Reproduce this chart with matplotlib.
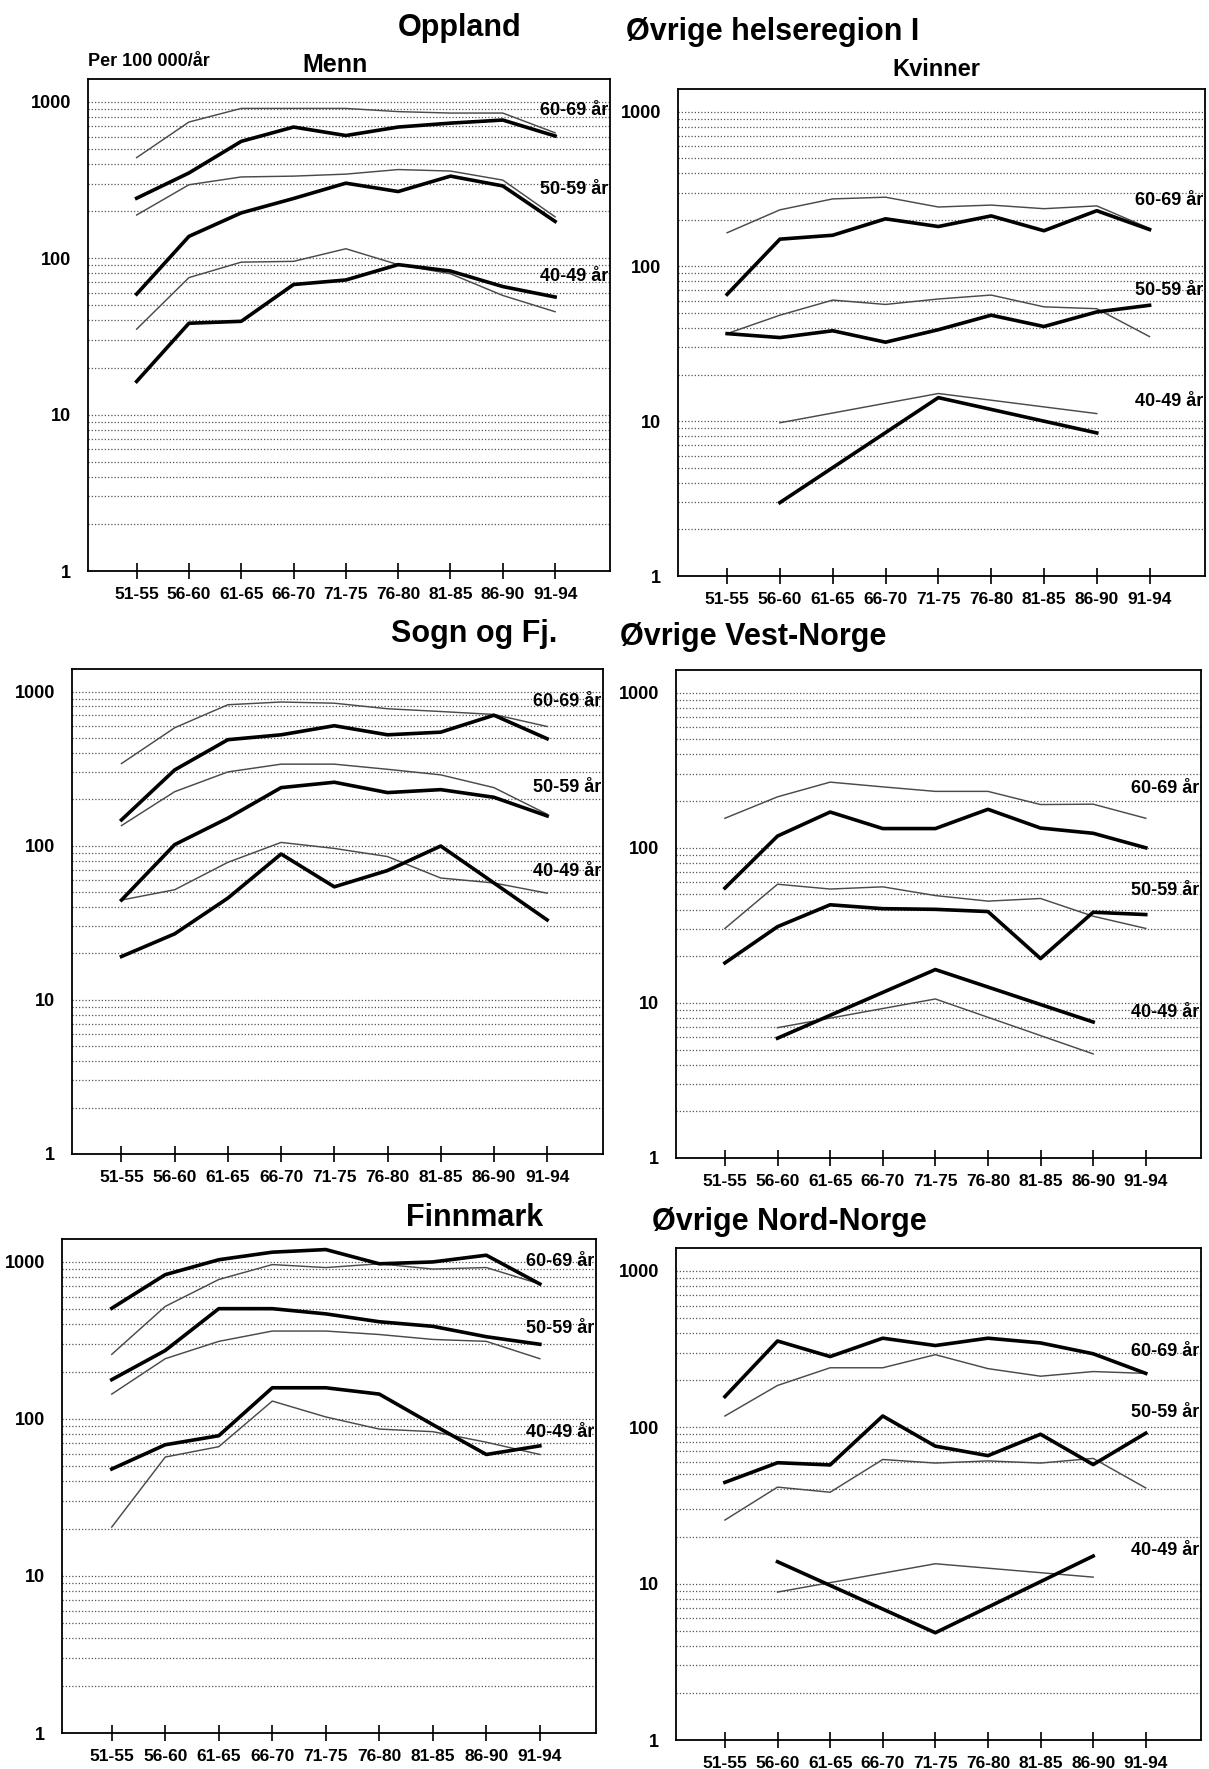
import numpy as np
import matplotlib
matplotlib.use("Agg")
import matplotlib.pyplot as plt
from matplotlib.ticker import LogLocator, FixedLocator, NullFormatter
import matplotlib.transforms as mtransforms

plt.rcParams['font.family'] = ['Liberation Sans', 'DejaVu Sans']
plt.rcParams['font.weight'] = 'bold'

nan = np.nan
PERIODS = ["51-55", "56-60", "61-65", "66-70", "71-75", "76-80", "81-85", "86-90", "91-94"]
AGE_LABELS = ["60-69 år", "50-59 år", "40-49 år"]
Y_TICKS = [1, 10, 100, 1000]

# Oppland (thick) vs Øvrige helseregion I (thin)
opp_m_60 = [242, 351, 559, 690, 609, 690, 731, 765, 605]
hr1_m_60 = [440, 743, 908, 908, 908, 866, 848, 848, 634]
opp_m_50 = [59, 138, 195, 241, 302, 267, 335, 290, 172]
hr1_m_50 = [189, 295, 331, 335, 345, 369, 361, 316, 184]
opp_m_40 = [16.3, 38.4, 39.5, 67.9, 72.6, 91, 82.8, 65.9, 56.5]
hr1_m_40 = [35.2, 75.2, 94.4, 95.5, 115, 91, 79.6, 57.8, 45.5]
opp_k_60 = [66, 150, 159, 203, 181, 212, 170, 229, 173]
hr1_k_60 = [165, 232, 273, 280, 242, 249, 236, 246, 176]
opp_k_50 = [36.8, 34.7, 38.4, 32.4, 39, 48.4, 40.9, 50.8, 56.1]
hr1_k_50 = [36.8, 48.4, 60.6, 56.8, 61.6, 65.3, 54.8, 53.3, 35.2]
opp_k_40 = [nan, 2.98, nan, nan, 14.2, nan, nan, 8.4, nan]
hr1_k_40 = [nan, 9.77, nan, nan, 15.1, nan, nan, 11.2, nan]

# Sogn og Fjordane (thick) vs Øvrige Vest-Norge (thin)
sfj_m_60 = [147, 310, 487, 524, 600, 524, 545, 702, 494]
vest_m_60 = [341, 582, 821, 855, 840, 773, 742, 710, 593]
sfj_m_50 = [44.4, 101.6, 151, 238, 258, 221, 231, 206, 156]
vest_m_50 = [135, 224, 301, 338, 338, 313, 288, 238, 160]
sfj_m_40 = [19.1, 26.8, 45.7, 88.3, 54.1, 69, 99.5, 57.3, 33]
vest_m_40 = [44.4, 51.8, 78, 105, 96, 85, 61.7, 57.3, 49.2]
sfj_k_60 = [55, 119, 170, 133, 133, 177, 134, 124, 100]
vest_k_60 = [155, 213, 265, 247, 231, 231, 190, 191, 155]
sfj_k_50 = [18.1, 31, 42.9, 40.5, 40.1, 38.8, 19.3, 38.4, 37.1]
vest_k_50 = [30.2, 58.2, 54.2, 56, 49.2, 45.3, 47.1, 36.2, 30.2]
sfj_k_40 = [nan, 5.92, nan, nan, 16.4, nan, nan, 7.53, nan]
vest_k_40 = [nan, 6.92, nan, nan, 10.6, nan, nan, 4.69, nan]

# Finnmark (thick) vs Øvrige Nord-Norge (thin)
fin_m_60 = [507, 830, 1033, 1154, 1199, 973, 1000, 1104, 724]
nord_m_60 = [258, 521, 773, 962, 921, 973, 901, 921, 724]
fin_m_50 = [178, 273, 504, 504, 467, 416, 389, 334, 299]
nord_m_50 = [144, 242, 312, 363, 363, 345, 321, 312, 242]
fin_m_40 = [48, 68.5, 78.2, 158, 158, 144, 92, 59.4, 67.4]
nord_m_40 = [20.5, 57.2, 66.6, 130, 103, 86.2, 83, 71.1, 59.4]
fin_k_60 = [157, 356, 283, 371, 333, 371, 346, 295, 221]
nord_k_60 = [118, 185, 240, 240, 291, 237, 212, 227, 221]
fin_k_50 = [44.4, 59.3, 57.4, 118, 75.7, 65.8, 90.2, 57.7, 91.6]
nord_k_50 = [25.5, 41.4, 38.4, 62.2, 59, 60.9, 59, 63.2, 40.9]
fin_k_40 = [nan, 13.8, nan, nan, 4.85, nan, nan, 15.0, nan]
nord_k_40 = [nan, 8.83, nan, nan, 13.4, nan, nan, 11.0, nan]

W, H = 1209, 1769
fig = plt.figure(figsize=(W / 100, H / 100), dpi=100)

def box(l, r, t, b):
    return [l / W, 1 - b / H, (r - l) / W, (b - t) / H]

panels = [
    (box(88, 610, 79, 571), [(opp_m_60, hr1_m_60), (opp_m_50, hr1_m_50), (opp_m_40, hr1_m_40)],
     [880, 274, 76]),
    (box(678, 1205, 89, 576), [(opp_k_60, hr1_k_60), (opp_k_50, hr1_k_50), (opp_k_40, hr1_k_40)],
     [268, 70, 13.5]),
    (box(72, 603, 669, 1154), [(sfj_m_60, vest_m_60), (sfj_m_50, vest_m_50), (sfj_m_40, vest_m_40)],
     [868, 240, 68]),
    (box(676, 1201, 670, 1158), [(sfj_k_60, vest_k_60), (sfj_k_50, vest_k_50), (sfj_k_40, vest_k_40)],
     [241, 52.7, 8.65]),
    (box(62, 596, 1239, 1733), [(fin_m_60, nord_m_60), (fin_m_50, nord_m_50), (fin_m_40, nord_m_40)],
     [1000, 375, 81.7]),
    (box(676, 1201, 1248, 1740), [(fin_k_60, nord_k_60), (fin_k_50, nord_k_50), (fin_k_40, nord_k_40)],
     [307, 124, 16.2]),
]

x = np.arange(len(PERIODS))
for rect, series, label_y in panels:
    ax = fig.add_axes(rect)
    ax.set_yscale('log')
    ax.set_ylim(1, 1400)
    ax.set_xlim(-0.93, 9.05)
    ax.yaxis.set_major_locator(FixedLocator(Y_TICKS))
    ax.set_yticklabels([str(v) for v in Y_TICKS])
    ax.yaxis.set_minor_locator(LogLocator(base=10, subs=np.arange(2, 10)))
    ax.yaxis.set_minor_formatter(NullFormatter())
    ax.grid(True, axis='y', which='both', linestyle=(0, (1, 1.6)), linewidth=0.9, color='#555555')
    ax.tick_params(axis='y', which='both', length=0, pad=12, labelsize=13)
    ax.set_xticks(x)
    ax.set_xticklabels(PERIODS)
    ax.tick_params(axis='x', direction='inout', length=11, width=1.2, pad=6, labelsize=12.5)
    for sp in ax.spines.values():
        sp.set_linewidth(1.3)
        sp.set_color('black')
    for thick, thin in series:
        thin_a = np.array(thin, dtype=float)
        m = ~np.isnan(thin_a)
        ax.plot(x[m], thin_a[m], color='#4a4a4a', linewidth=1.05, zorder=3)
        thick_a = np.array(thick, dtype=float)
        m = ~np.isnan(thick_a)
        ax.plot(x[m], thick_a[m], color='black', linewidth=2.6, zorder=4)
    trans = mtransforms.blended_transform_factory(ax.transAxes, ax.transData)
    for lab, yv in zip(AGE_LABELS, label_y):
        ax.text(0.997, yv, lab, transform=trans, ha='right', va='center',
                fontsize=13, fontweight='bold', zorder=5)

def ftext(xp, yp, s, size, ha='left'):
    fig.text(xp / W, 1 - yp / H, s, ha=ha, va='center', fontsize=size, fontweight='bold')

ftext(460, 28, "Oppland", 22, 'center')
ftext(626, 32, "Øvrige helseregion I", 22)
ftext(88, 62, "Per 100 000/år", 13)
ftext(335, 65, "Menn", 18, 'center')
ftext(936, 70, "Kvinner", 17, 'center')
ftext(474, 634, "Sogn og Fj.", 22, 'center')
ftext(620, 637, "Øvrige Vest-Norge", 22)
ftext(475, 1218, "Finnmark", 22, 'center')
ftext(652, 1222, "Øvrige Nord-Norge", 22)

fig.savefig("out.png", dpi=100)
